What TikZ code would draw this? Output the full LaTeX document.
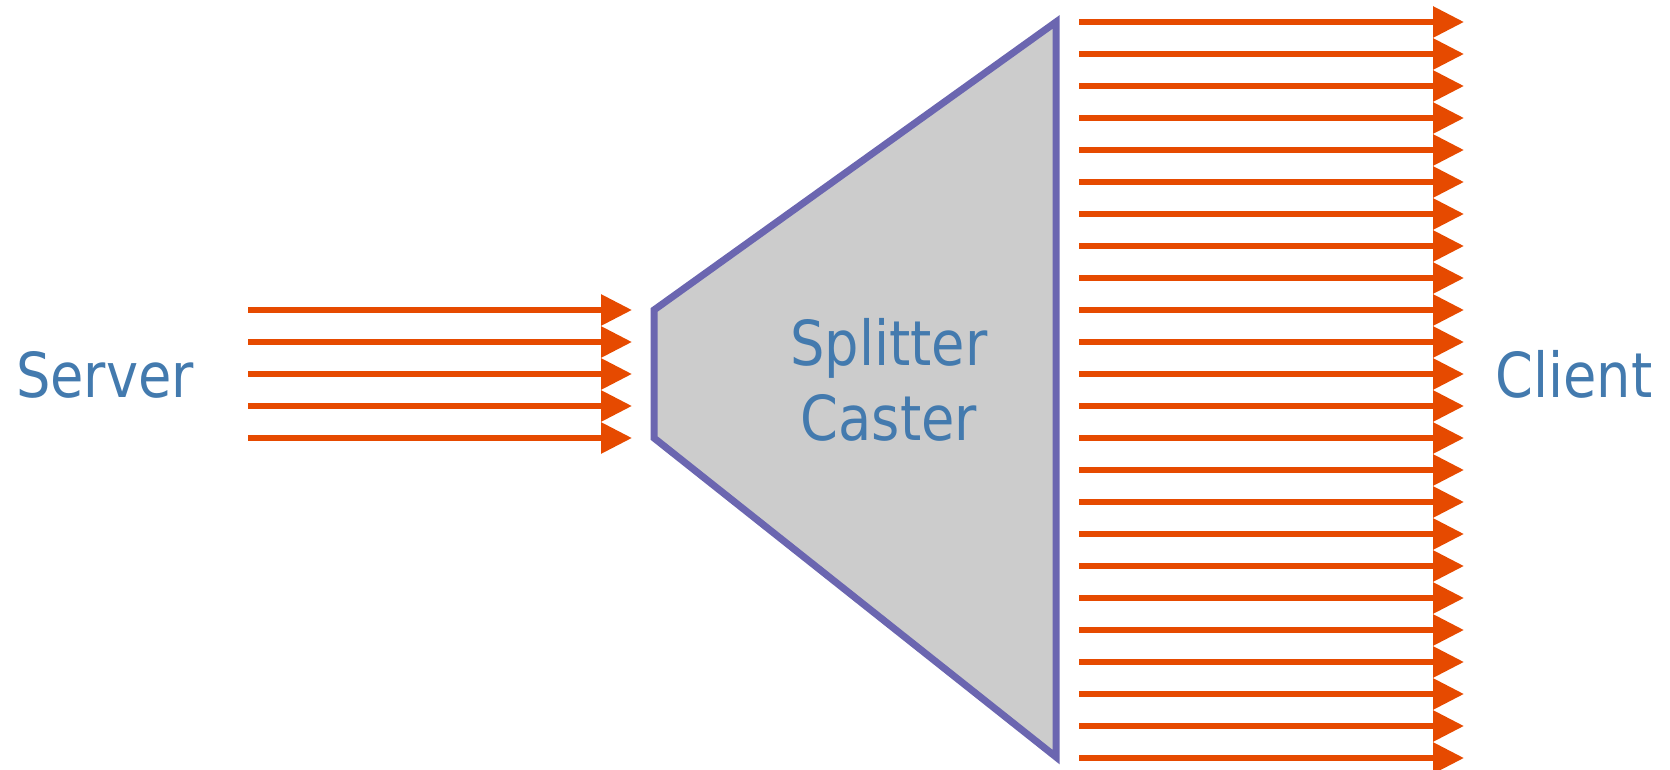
\documentclass[tikz,border=0pt]{standalone}
\usepackage{fontspec}
\setmainfont{DejaVu Sans}[FakeStretch=0.875]
\usetikzlibrary{arrows.meta}
\definecolor{arrowc}{HTML}{E64A00}
\definecolor{edgec}{HTML}{6B66B0}
\definecolor{fillc}{HTML}{CCCCCC}
\definecolor{textc}{HTML}{437AAE}
\begin{document}
\begin{tikzpicture}[x=0.5pt,y=-0.5pt,
  flow/.style={draw=arrowc, line width=3pt, -{Triangle[length=15.5pt,width=15pt]}},
  lbl/.style={text=textc, font=\fontsize{31}{37.5}\selectfont, inner sep=0pt, align=center},
  splitbox/.style={draw=edgec, fill=fillc, line width=3.5pt, line join=miter}]
\clip (0,0) rectangle (1670,770);
\useasboundingbox (0,0) rectangle (1670,770);
% splitter body
\draw[splitbox] (654,310) coordinate (tl) -- (1056,22) coordinate (tr)
  -- (1056,757) coordinate (br) -- (654,438) coordinate (bl) -- cycle;
% labels
\node[lbl, anchor=base] (server) at (105,397) {Server};
\node[lbl, anchor=base] (client) at (1574,397) {Client};
\node[lbl, anchor=base] (splitter) at (889,440) {Splitter\\Caster};
% input streams
\foreach \k in {9,...,13}{
  \coordinate (in\k) at (248,{22+32*\k});
  \coordinate (inend\k) at (632,{22+32*\k});
  \draw[flow] (in\k) -- (inend\k);
}
% output streams
\foreach \k in {0,...,23}{
  \coordinate (out\k) at (1079,{22+32*\k});
  \coordinate (outend\k) at (1464,{22+32*\k});
  \draw[flow] (out\k) -- (outend\k);
}
\end{tikzpicture}
\end{document}
